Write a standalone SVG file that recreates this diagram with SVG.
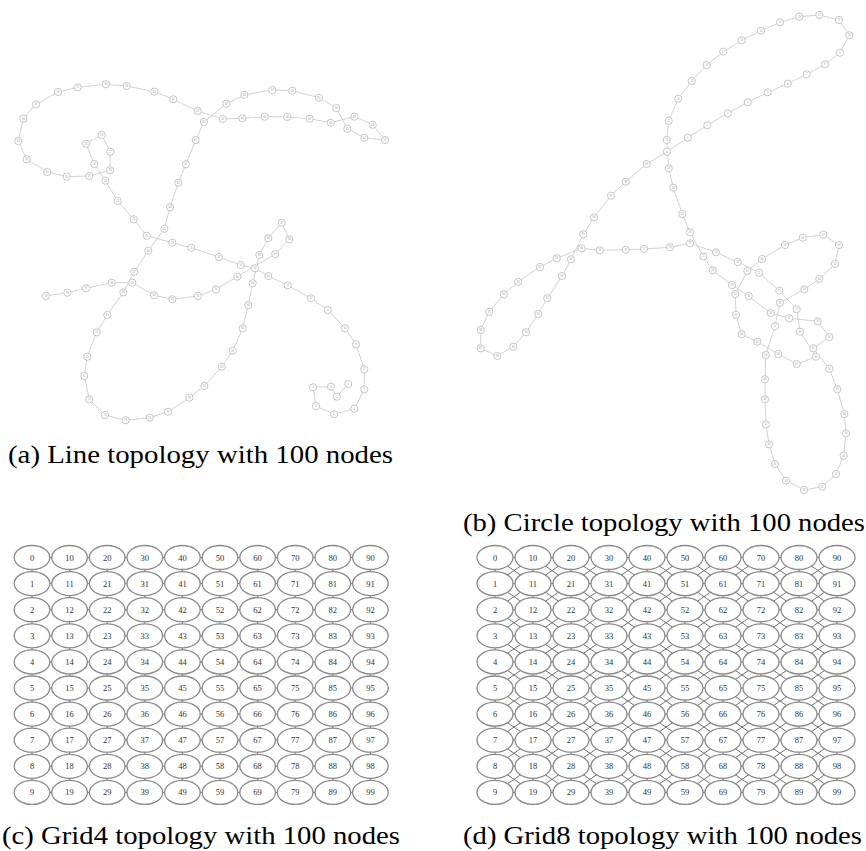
<svg xmlns="http://www.w3.org/2000/svg" width="866" height="851" viewBox="0 0 866 851">
<style>
.e{fill:none;stroke:#cdcdcd;stroke-width:0.9}
.s{fill:#fff;stroke:#c0c0c0;stroke-width:0.9}
.t{font-family:"Liberation Sans",sans-serif;font-size:2.6px;fill:#9a9a9a;text-anchor:middle}
.g{fill:#fff;stroke:#8a8a8a;stroke-width:1.3}
.gt{font-family:"Liberation Serif",serif;font-size:8.5px;fill:#333;text-anchor:middle}
.ge{fill:none;stroke:#707070;stroke-width:1}
.cap{font-family:"Liberation Serif",serif;font-size:25px;fill:#000}
</style>
<rect width="866" height="851" fill="#fff"/>
<g id="connectors">
<polyline id="line-edges" class="e" points="46,296 67.3,292.7 86,288.3 111.7,282.7 132.3,282.7 154,295.3 172.3,299.3 198,296 216,289.3 237.3,276.7 275.3,254 289.3,239.3 281.7,222.7 268.3,238.3 259.3,255 252.7,283.3 248.3,305 242.7,328.3 232.7,350.7 221.7,366.7 204.3,386 189.3,397.7 168,411.7 149.7,417.7 125.7,420.3 105,415 89.3,399.3 84.3,376 87.3,356.7 96.7,332.3 107.3,315 123.3,292.3 134.3,271.7 148.3,250.7 164.3,228.7 170,207.3 178.3,182.7 186,164.3 195.7,140 204,122 226.3,103.7 244.3,95 272.3,90 292.3,90.7 319,97.7 336.3,108 347.3,128.7 364.3,137.7 385,140 372.7,124.7 354.3,116.7 330.7,122.7 309.7,118.7 287.3,117 264.7,116.7 242.3,118.3 222.7,119 197.7,111 173.3,99.3 154.3,91.7 126.7,86 106,84.3 77.7,87.3 58,92 36,104.3 23.3,118.7 18.3,141 26.7,159.3 47.3,172 66.7,176.7 89.3,176 110,170.3 110.3,151.7 101.7,135 86,143.7 94.3,164 105.3,180.7 117.7,201 133.7,219.3 146.7,235.7 172.3,242.7 191.3,247.7 219,257 240.7,265 255,268.3 268.3,276 287.7,285.3 311,298.3 327.7,310 345,328.3 356,344.3 364.3,369.3 364.3,389.3 354.3,408.7 334,414.3 316,406 313,387.3 331,386.7 336.7,396.7 348.3,384"/>
<polygon id="circle-edges" class="e" points="667,151.7 687.7,137.7 707.3,125.3 727.7,113.3 747.7,102.3 767.7,92.3 787.7,83.7 806.7,74.3 825,64.3 840,52.7 849.3,35.3 839,20 819.3,15 799.3,16.7 780,22.3 761,30.7 741.7,40.3 723.3,51.7 706.7,65 691.7,81 678.3,98.7 668.7,120.7 666.7,140 668.7,168.3 673.3,187.7 682.3,214 690,232.3 703.3,256.3 712.7,270.3 732,285 748.7,296 770.7,313 789.3,318.3 817.7,321.3 829.3,337 813.3,348.3 829.3,368.7 837.3,389.3 844.3,414 846,433.3 843.7,455.7 836,474 822.3,486.7 804,490 786,480.7 775,464 769,444.3 766,424.3 765,399.3 765,379.3 765.7,355 775,326.3 780,302.7 804.3,289.3 819.3,279 835,264 839,245 823.3,234.7 802.7,237.7 785,245 762,259 747.3,271 735.3,294 736,314.7 741.7,334.3 757.3,341.7 778.3,354 796.7,364 816,356.7 800,331.7 796.7,309.3 779.3,290.7 759,272.7 737.7,262 716,252.3 690,243.3 670,247.3 644,249 625.7,249.7 599.7,250.3 581.7,248.3 556.7,258.3 540,267 518.3,281.7 503.7,294.3 489.3,311.7 480.7,330 480.7,348.3 497.3,356 513.3,346.7 526,332.3 538.3,314 547.3,298.3 562,276 571,259.3 583.3,234.3 594,217.3 611,195.7 625.7,181.7 646.7,164"/>
<path id="grid4-edges" class="ge" d="M32 557.5H370.4M32 583.6H370.4M32 609.7H370.4M32 635.8H370.4M32 661.9H370.4M32 688H370.4M32 714.1H370.4M32 740.2H370.4M32 766.3H370.4M32 792.4H370.4M32 557.5V792.4M69.6 557.5V792.4M107.2 557.5V792.4M144.8 557.5V792.4M182.4 557.5V792.4M220 557.5V792.4M257.6 557.5V792.4M295.2 557.5V792.4M332.8 557.5V792.4M370.4 557.5V792.4"/>
<path id="grid8-edges" class="ge" d="M495 557.5H837M495 583.6H837M495 609.7H837M495 635.8H837M495 661.9H837M495 688H837M495 714.1H837M495 740.2H837M495 766.3H837M495 792.4H837M495 557.5V792.4M533 557.5V792.4M571 557.5V792.4M609 557.5V792.4M647 557.5V792.4M685 557.5V792.4M723 557.5V792.4M761 557.5V792.4M799 557.5V792.4M837 557.5V792.4M495 766.3L533 792.4M495 740.2L571 792.4M495 714.1L609 792.4M495 688L647 792.4M495 661.9L685 792.4M495 635.8L723 792.4M495 609.7L761 792.4M495 583.6L799 792.4M495 557.5L837 792.4M533 557.5L837 766.3M571 557.5L837 740.2M609 557.5L837 714.1M647 557.5L837 688M685 557.5L837 661.9M723 557.5L837 635.8M761 557.5L837 609.7M799 557.5L837 583.6M495 583.6L533 557.5M495 609.7L571 557.5M495 635.8L609 557.5M495 661.9L647 557.5M495 688L685 557.5M495 714.1L723 557.5M495 740.2L761 557.5M495 766.3L799 557.5M495 792.4L837 557.5M533 792.4L837 583.6M571 792.4L837 609.7M609 792.4L837 635.8M647 792.4L837 661.9M685 792.4L837 688M723 792.4L837 714.1M761 792.4L837 740.2M799 792.4L837 766.3"/>
</g>
<g id="line-nodes">
<g id="L99" transform="translate(46,296)"><circle class="s" r="3.6"/><text class="t" y="0.9">99</text></g>
<g id="L98" transform="translate(67.3,292.7)"><circle class="s" r="3.6"/><text class="t" y="0.9">98</text></g>
<g id="L97" transform="translate(86,288.3)"><circle class="s" r="3.6"/><text class="t" y="0.9">97</text></g>
<g id="L96" transform="translate(111.7,282.7)"><circle class="s" r="3.6"/><text class="t" y="0.9">96</text></g>
<g id="L95" transform="translate(132.3,282.7)"><circle class="s" r="3.6"/><text class="t" y="0.9">95</text></g>
<g id="L94" transform="translate(154,295.3)"><circle class="s" r="3.6"/><text class="t" y="0.9">94</text></g>
<g id="L93" transform="translate(172.3,299.3)"><circle class="s" r="3.6"/><text class="t" y="0.9">93</text></g>
<g id="L92" transform="translate(198,296)"><circle class="s" r="3.6"/><text class="t" y="0.9">92</text></g>
<g id="L91" transform="translate(216,289.3)"><circle class="s" r="3.6"/><text class="t" y="0.9">91</text></g>
<g id="L90" transform="translate(237.3,276.7)"><circle class="s" r="3.6"/><text class="t" y="0.9">90</text></g>
<g id="L89" transform="translate(275.3,254)"><circle class="s" r="3.6"/><text class="t" y="0.9">89</text></g>
<g id="L88" transform="translate(289.3,239.3)"><circle class="s" r="3.6"/><text class="t" y="0.9">88</text></g>
<g id="L87" transform="translate(281.7,222.7)"><circle class="s" r="3.6"/><text class="t" y="0.9">87</text></g>
<g id="L86" transform="translate(268.3,238.3)"><circle class="s" r="3.6"/><text class="t" y="0.9">86</text></g>
<g id="L85" transform="translate(259.3,255)"><circle class="s" r="3.6"/><text class="t" y="0.9">85</text></g>
<g id="L84" transform="translate(252.7,283.3)"><circle class="s" r="3.6"/><text class="t" y="0.9">84</text></g>
<g id="L83" transform="translate(248.3,305)"><circle class="s" r="3.6"/><text class="t" y="0.9">83</text></g>
<g id="L82" transform="translate(242.7,328.3)"><circle class="s" r="3.6"/><text class="t" y="0.9">82</text></g>
<g id="L81" transform="translate(232.7,350.7)"><circle class="s" r="3.6"/><text class="t" y="0.9">81</text></g>
<g id="L80" transform="translate(221.7,366.7)"><circle class="s" r="3.6"/><text class="t" y="0.9">80</text></g>
<g id="L79" transform="translate(204.3,386)"><circle class="s" r="3.6"/><text class="t" y="0.9">79</text></g>
<g id="L78" transform="translate(189.3,397.7)"><circle class="s" r="3.6"/><text class="t" y="0.9">78</text></g>
<g id="L77" transform="translate(168,411.7)"><circle class="s" r="3.6"/><text class="t" y="0.9">77</text></g>
<g id="L76" transform="translate(149.7,417.7)"><circle class="s" r="3.6"/><text class="t" y="0.9">76</text></g>
<g id="L75" transform="translate(125.7,420.3)"><circle class="s" r="3.6"/><text class="t" y="0.9">75</text></g>
<g id="L74" transform="translate(105,415)"><circle class="s" r="3.6"/><text class="t" y="0.9">74</text></g>
<g id="L73" transform="translate(89.3,399.3)"><circle class="s" r="3.6"/><text class="t" y="0.9">73</text></g>
<g id="L72" transform="translate(84.3,376)"><circle class="s" r="3.6"/><text class="t" y="0.9">72</text></g>
<g id="L71" transform="translate(87.3,356.7)"><circle class="s" r="3.6"/><text class="t" y="0.9">71</text></g>
<g id="L70" transform="translate(96.7,332.3)"><circle class="s" r="3.6"/><text class="t" y="0.9">70</text></g>
<g id="L69" transform="translate(107.3,315)"><circle class="s" r="3.6"/><text class="t" y="0.9">69</text></g>
<g id="L68" transform="translate(123.3,292.3)"><circle class="s" r="3.6"/><text class="t" y="0.9">68</text></g>
<g id="L67" transform="translate(134.3,271.7)"><circle class="s" r="3.6"/><text class="t" y="0.9">67</text></g>
<g id="L66" transform="translate(148.3,250.7)"><circle class="s" r="3.6"/><text class="t" y="0.9">66</text></g>
<g id="L65" transform="translate(164.3,228.7)"><circle class="s" r="3.6"/><text class="t" y="0.9">65</text></g>
<g id="L64" transform="translate(170,207.3)"><circle class="s" r="3.6"/><text class="t" y="0.9">64</text></g>
<g id="L63" transform="translate(178.3,182.7)"><circle class="s" r="3.6"/><text class="t" y="0.9">63</text></g>
<g id="L62" transform="translate(186,164.3)"><circle class="s" r="3.6"/><text class="t" y="0.9">62</text></g>
<g id="L61" transform="translate(195.7,140)"><circle class="s" r="3.6"/><text class="t" y="0.9">61</text></g>
<g id="L60" transform="translate(204,122)"><circle class="s" r="3.6"/><text class="t" y="0.9">60</text></g>
<g id="L59" transform="translate(226.3,103.7)"><circle class="s" r="3.6"/><text class="t" y="0.9">59</text></g>
<g id="L58" transform="translate(244.3,95)"><circle class="s" r="3.6"/><text class="t" y="0.9">58</text></g>
<g id="L57" transform="translate(272.3,90)"><circle class="s" r="3.6"/><text class="t" y="0.9">57</text></g>
<g id="L56" transform="translate(292.3,90.7)"><circle class="s" r="3.6"/><text class="t" y="0.9">56</text></g>
<g id="L55" transform="translate(319,97.7)"><circle class="s" r="3.6"/><text class="t" y="0.9">55</text></g>
<g id="L54" transform="translate(336.3,108)"><circle class="s" r="3.6"/><text class="t" y="0.9">54</text></g>
<g id="L53" transform="translate(347.3,128.7)"><circle class="s" r="3.6"/><text class="t" y="0.9">53</text></g>
<g id="L52" transform="translate(364.3,137.7)"><circle class="s" r="3.6"/><text class="t" y="0.9">52</text></g>
<g id="L51" transform="translate(385,140)"><circle class="s" r="3.6"/><text class="t" y="0.9">51</text></g>
<g id="L50" transform="translate(372.7,124.7)"><circle class="s" r="3.6"/><text class="t" y="0.9">50</text></g>
<g id="L49" transform="translate(354.3,116.7)"><circle class="s" r="3.6"/><text class="t" y="0.9">49</text></g>
<g id="L48" transform="translate(330.7,122.7)"><circle class="s" r="3.6"/><text class="t" y="0.9">48</text></g>
<g id="L47" transform="translate(309.7,118.7)"><circle class="s" r="3.6"/><text class="t" y="0.9">47</text></g>
<g id="L46" transform="translate(287.3,117)"><circle class="s" r="3.6"/><text class="t" y="0.9">46</text></g>
<g id="L45" transform="translate(264.7,116.7)"><circle class="s" r="3.6"/><text class="t" y="0.9">45</text></g>
<g id="L44" transform="translate(242.3,118.3)"><circle class="s" r="3.6"/><text class="t" y="0.9">44</text></g>
<g id="L43" transform="translate(222.7,119)"><circle class="s" r="3.6"/><text class="t" y="0.9">43</text></g>
<g id="L42" transform="translate(197.7,111)"><circle class="s" r="3.6"/><text class="t" y="0.9">42</text></g>
<g id="L41" transform="translate(173.3,99.3)"><circle class="s" r="3.6"/><text class="t" y="0.9">41</text></g>
<g id="L40" transform="translate(154.3,91.7)"><circle class="s" r="3.6"/><text class="t" y="0.9">40</text></g>
<g id="L39" transform="translate(126.7,86)"><circle class="s" r="3.6"/><text class="t" y="0.9">39</text></g>
<g id="L38" transform="translate(106,84.3)"><circle class="s" r="3.6"/><text class="t" y="0.9">38</text></g>
<g id="L37" transform="translate(77.7,87.3)"><circle class="s" r="3.6"/><text class="t" y="0.9">37</text></g>
<g id="L36" transform="translate(58,92)"><circle class="s" r="3.6"/><text class="t" y="0.9">36</text></g>
<g id="L35" transform="translate(36,104.3)"><circle class="s" r="3.6"/><text class="t" y="0.9">35</text></g>
<g id="L34" transform="translate(23.3,118.7)"><circle class="s" r="3.6"/><text class="t" y="0.9">34</text></g>
<g id="L33" transform="translate(18.3,141)"><circle class="s" r="3.6"/><text class="t" y="0.9">33</text></g>
<g id="L32" transform="translate(26.7,159.3)"><circle class="s" r="3.6"/><text class="t" y="0.9">32</text></g>
<g id="L31" transform="translate(47.3,172)"><circle class="s" r="3.6"/><text class="t" y="0.9">31</text></g>
<g id="L30" transform="translate(66.7,176.7)"><circle class="s" r="3.6"/><text class="t" y="0.9">30</text></g>
<g id="L29" transform="translate(89.3,176)"><circle class="s" r="3.6"/><text class="t" y="0.9">29</text></g>
<g id="L28" transform="translate(110,170.3)"><circle class="s" r="3.6"/><text class="t" y="0.9">28</text></g>
<g id="L27" transform="translate(110.3,151.7)"><circle class="s" r="3.6"/><text class="t" y="0.9">27</text></g>
<g id="L26" transform="translate(101.7,135)"><circle class="s" r="3.6"/><text class="t" y="0.9">26</text></g>
<g id="L25" transform="translate(86,143.7)"><circle class="s" r="3.6"/><text class="t" y="0.9">25</text></g>
<g id="L24" transform="translate(94.3,164)"><circle class="s" r="3.6"/><text class="t" y="0.9">24</text></g>
<g id="L23" transform="translate(105.3,180.7)"><circle class="s" r="3.6"/><text class="t" y="0.9">23</text></g>
<g id="L22" transform="translate(117.7,201)"><circle class="s" r="3.6"/><text class="t" y="0.9">22</text></g>
<g id="L21" transform="translate(133.7,219.3)"><circle class="s" r="3.6"/><text class="t" y="0.9">21</text></g>
<g id="L20" transform="translate(146.7,235.7)"><circle class="s" r="3.6"/><text class="t" y="0.9">20</text></g>
<g id="L19" transform="translate(172.3,242.7)"><circle class="s" r="3.6"/><text class="t" y="0.9">19</text></g>
<g id="L18" transform="translate(191.3,247.7)"><circle class="s" r="3.6"/><text class="t" y="0.9">18</text></g>
<g id="L17" transform="translate(219,257)"><circle class="s" r="3.6"/><text class="t" y="0.9">17</text></g>
<g id="L16" transform="translate(240.7,265)"><circle class="s" r="3.6"/><text class="t" y="0.9">16</text></g>
<g id="L15" transform="translate(255,268.3)"><circle class="s" r="3.6"/><text class="t" y="0.9">15</text></g>
<g id="L14" transform="translate(268.3,276)"><circle class="s" r="3.6"/><text class="t" y="0.9">14</text></g>
<g id="L13" transform="translate(287.7,285.3)"><circle class="s" r="3.6"/><text class="t" y="0.9">13</text></g>
<g id="L12" transform="translate(311,298.3)"><circle class="s" r="3.6"/><text class="t" y="0.9">12</text></g>
<g id="L11" transform="translate(327.7,310)"><circle class="s" r="3.6"/><text class="t" y="0.9">11</text></g>
<g id="L10" transform="translate(345,328.3)"><circle class="s" r="3.6"/><text class="t" y="0.9">10</text></g>
<g id="L9" transform="translate(356,344.3)"><circle class="s" r="3.6"/><text class="t" y="0.9">9</text></g>
<g id="L8" transform="translate(364.3,369.3)"><circle class="s" r="3.6"/><text class="t" y="0.9">8</text></g>
<g id="L7" transform="translate(364.3,389.3)"><circle class="s" r="3.6"/><text class="t" y="0.9">7</text></g>
<g id="L6" transform="translate(354.3,408.7)"><circle class="s" r="3.6"/><text class="t" y="0.9">6</text></g>
<g id="L5" transform="translate(334,414.3)"><circle class="s" r="3.6"/><text class="t" y="0.9">5</text></g>
<g id="L4" transform="translate(316,406)"><circle class="s" r="3.6"/><text class="t" y="0.9">4</text></g>
<g id="L3" transform="translate(313,387.3)"><circle class="s" r="3.6"/><text class="t" y="0.9">3</text></g>
<g id="L2" transform="translate(331,386.7)"><circle class="s" r="3.6"/><text class="t" y="0.9">2</text></g>
<g id="L1" transform="translate(336.7,396.7)"><circle class="s" r="3.6"/><text class="t" y="0.9">1</text></g>
<g id="L0" transform="translate(348.3,384)"><circle class="s" r="3.6"/><text class="t" y="0.9">0</text></g>
</g>
<g id="circle-nodes">
<g id="C0" transform="translate(667,151.7)"><circle class="s" r="3.6"/><text class="t" y="0.9">0</text></g>
<g id="C1" transform="translate(687.7,137.7)"><circle class="s" r="3.6"/><text class="t" y="0.9">1</text></g>
<g id="C2" transform="translate(707.3,125.3)"><circle class="s" r="3.6"/><text class="t" y="0.9">2</text></g>
<g id="C3" transform="translate(727.7,113.3)"><circle class="s" r="3.6"/><text class="t" y="0.9">3</text></g>
<g id="C4" transform="translate(747.7,102.3)"><circle class="s" r="3.6"/><text class="t" y="0.9">4</text></g>
<g id="C5" transform="translate(767.7,92.3)"><circle class="s" r="3.6"/><text class="t" y="0.9">5</text></g>
<g id="C6" transform="translate(787.7,83.7)"><circle class="s" r="3.6"/><text class="t" y="0.9">6</text></g>
<g id="C7" transform="translate(806.7,74.3)"><circle class="s" r="3.6"/><text class="t" y="0.9">7</text></g>
<g id="C8" transform="translate(825,64.3)"><circle class="s" r="3.6"/><text class="t" y="0.9">8</text></g>
<g id="C9" transform="translate(840,52.7)"><circle class="s" r="3.6"/><text class="t" y="0.9">9</text></g>
<g id="C10" transform="translate(849.3,35.3)"><circle class="s" r="3.6"/><text class="t" y="0.9">10</text></g>
<g id="C11" transform="translate(839,20)"><circle class="s" r="3.6"/><text class="t" y="0.9">11</text></g>
<g id="C12" transform="translate(819.3,15)"><circle class="s" r="3.6"/><text class="t" y="0.9">12</text></g>
<g id="C13" transform="translate(799.3,16.7)"><circle class="s" r="3.6"/><text class="t" y="0.9">13</text></g>
<g id="C14" transform="translate(780,22.3)"><circle class="s" r="3.6"/><text class="t" y="0.9">14</text></g>
<g id="C15" transform="translate(761,30.7)"><circle class="s" r="3.6"/><text class="t" y="0.9">15</text></g>
<g id="C16" transform="translate(741.7,40.3)"><circle class="s" r="3.6"/><text class="t" y="0.9">16</text></g>
<g id="C17" transform="translate(723.3,51.7)"><circle class="s" r="3.6"/><text class="t" y="0.9">17</text></g>
<g id="C18" transform="translate(706.7,65)"><circle class="s" r="3.6"/><text class="t" y="0.9">18</text></g>
<g id="C19" transform="translate(691.7,81)"><circle class="s" r="3.6"/><text class="t" y="0.9">19</text></g>
<g id="C20" transform="translate(678.3,98.7)"><circle class="s" r="3.6"/><text class="t" y="0.9">20</text></g>
<g id="C21" transform="translate(668.7,120.7)"><circle class="s" r="3.6"/><text class="t" y="0.9">21</text></g>
<g id="C22" transform="translate(666.7,140)"><circle class="s" r="3.6"/><text class="t" y="0.9">22</text></g>
<g id="C23" transform="translate(668.7,168.3)"><circle class="s" r="3.6"/><text class="t" y="0.9">23</text></g>
<g id="C24" transform="translate(673.3,187.7)"><circle class="s" r="3.6"/><text class="t" y="0.9">24</text></g>
<g id="C25" transform="translate(682.3,214)"><circle class="s" r="3.6"/><text class="t" y="0.9">25</text></g>
<g id="C26" transform="translate(690,232.3)"><circle class="s" r="3.6"/><text class="t" y="0.9">26</text></g>
<g id="C27" transform="translate(703.3,256.3)"><circle class="s" r="3.6"/><text class="t" y="0.9">27</text></g>
<g id="C28" transform="translate(712.7,270.3)"><circle class="s" r="3.6"/><text class="t" y="0.9">28</text></g>
<g id="C29" transform="translate(732,285)"><circle class="s" r="3.6"/><text class="t" y="0.9">29</text></g>
<g id="C30" transform="translate(748.7,296)"><circle class="s" r="3.6"/><text class="t" y="0.9">30</text></g>
<g id="C31" transform="translate(770.7,313)"><circle class="s" r="3.6"/><text class="t" y="0.9">31</text></g>
<g id="C32" transform="translate(789.3,318.3)"><circle class="s" r="3.6"/><text class="t" y="0.9">32</text></g>
<g id="C33" transform="translate(817.7,321.3)"><circle class="s" r="3.6"/><text class="t" y="0.9">33</text></g>
<g id="C34" transform="translate(829.3,337)"><circle class="s" r="3.6"/><text class="t" y="0.9">34</text></g>
<g id="C35" transform="translate(813.3,348.3)"><circle class="s" r="3.6"/><text class="t" y="0.9">35</text></g>
<g id="C36" transform="translate(829.3,368.7)"><circle class="s" r="3.6"/><text class="t" y="0.9">36</text></g>
<g id="C37" transform="translate(837.3,389.3)"><circle class="s" r="3.6"/><text class="t" y="0.9">37</text></g>
<g id="C38" transform="translate(844.3,414)"><circle class="s" r="3.6"/><text class="t" y="0.9">38</text></g>
<g id="C39" transform="translate(846,433.3)"><circle class="s" r="3.6"/><text class="t" y="0.9">39</text></g>
<g id="C40" transform="translate(843.7,455.7)"><circle class="s" r="3.6"/><text class="t" y="0.9">40</text></g>
<g id="C41" transform="translate(836,474)"><circle class="s" r="3.6"/><text class="t" y="0.9">41</text></g>
<g id="C42" transform="translate(822.3,486.7)"><circle class="s" r="3.6"/><text class="t" y="0.9">42</text></g>
<g id="C43" transform="translate(804,490)"><circle class="s" r="3.6"/><text class="t" y="0.9">43</text></g>
<g id="C44" transform="translate(786,480.7)"><circle class="s" r="3.6"/><text class="t" y="0.9">44</text></g>
<g id="C45" transform="translate(775,464)"><circle class="s" r="3.6"/><text class="t" y="0.9">45</text></g>
<g id="C46" transform="translate(769,444.3)"><circle class="s" r="3.6"/><text class="t" y="0.9">46</text></g>
<g id="C47" transform="translate(766,424.3)"><circle class="s" r="3.6"/><text class="t" y="0.9">47</text></g>
<g id="C48" transform="translate(765,399.3)"><circle class="s" r="3.6"/><text class="t" y="0.9">48</text></g>
<g id="C49" transform="translate(765,379.3)"><circle class="s" r="3.6"/><text class="t" y="0.9">49</text></g>
<g id="C50" transform="translate(765.7,355)"><circle class="s" r="3.6"/><text class="t" y="0.9">50</text></g>
<g id="C51" transform="translate(775,326.3)"><circle class="s" r="3.6"/><text class="t" y="0.9">51</text></g>
<g id="C52" transform="translate(780,302.7)"><circle class="s" r="3.6"/><text class="t" y="0.9">52</text></g>
<g id="C53" transform="translate(804.3,289.3)"><circle class="s" r="3.6"/><text class="t" y="0.9">53</text></g>
<g id="C54" transform="translate(819.3,279)"><circle class="s" r="3.6"/><text class="t" y="0.9">54</text></g>
<g id="C55" transform="translate(835,264)"><circle class="s" r="3.6"/><text class="t" y="0.9">55</text></g>
<g id="C56" transform="translate(839,245)"><circle class="s" r="3.6"/><text class="t" y="0.9">56</text></g>
<g id="C57" transform="translate(823.3,234.7)"><circle class="s" r="3.6"/><text class="t" y="0.9">57</text></g>
<g id="C58" transform="translate(802.7,237.7)"><circle class="s" r="3.6"/><text class="t" y="0.9">58</text></g>
<g id="C59" transform="translate(785,245)"><circle class="s" r="3.6"/><text class="t" y="0.9">59</text></g>
<g id="C60" transform="translate(762,259)"><circle class="s" r="3.6"/><text class="t" y="0.9">60</text></g>
<g id="C61" transform="translate(747.3,271)"><circle class="s" r="3.6"/><text class="t" y="0.9">61</text></g>
<g id="C62" transform="translate(735.3,294)"><circle class="s" r="3.6"/><text class="t" y="0.9">62</text></g>
<g id="C63" transform="translate(736,314.7)"><circle class="s" r="3.6"/><text class="t" y="0.9">63</text></g>
<g id="C64" transform="translate(741.7,334.3)"><circle class="s" r="3.6"/><text class="t" y="0.9">64</text></g>
<g id="C65" transform="translate(757.3,341.7)"><circle class="s" r="3.6"/><text class="t" y="0.9">65</text></g>
<g id="C66" transform="translate(778.3,354)"><circle class="s" r="3.6"/><text class="t" y="0.9">66</text></g>
<g id="C67" transform="translate(796.7,364)"><circle class="s" r="3.6"/><text class="t" y="0.9">67</text></g>
<g id="C68" transform="translate(816,356.7)"><circle class="s" r="3.6"/><text class="t" y="0.9">68</text></g>
<g id="C69" transform="translate(800,331.7)"><circle class="s" r="3.6"/><text class="t" y="0.9">69</text></g>
<g id="C70" transform="translate(796.7,309.3)"><circle class="s" r="3.6"/><text class="t" y="0.9">70</text></g>
<g id="C71" transform="translate(779.3,290.7)"><circle class="s" r="3.6"/><text class="t" y="0.9">71</text></g>
<g id="C72" transform="translate(759,272.7)"><circle class="s" r="3.6"/><text class="t" y="0.9">72</text></g>
<g id="C73" transform="translate(737.7,262)"><circle class="s" r="3.6"/><text class="t" y="0.9">73</text></g>
<g id="C74" transform="translate(716,252.3)"><circle class="s" r="3.6"/><text class="t" y="0.9">74</text></g>
<g id="C75" transform="translate(690,243.3)"><circle class="s" r="3.6"/><text class="t" y="0.9">75</text></g>
<g id="C76" transform="translate(670,247.3)"><circle class="s" r="3.6"/><text class="t" y="0.9">76</text></g>
<g id="C77" transform="translate(644,249)"><circle class="s" r="3.6"/><text class="t" y="0.9">77</text></g>
<g id="C78" transform="translate(625.7,249.7)"><circle class="s" r="3.6"/><text class="t" y="0.9">78</text></g>
<g id="C79" transform="translate(599.7,250.3)"><circle class="s" r="3.6"/><text class="t" y="0.9">79</text></g>
<g id="C80" transform="translate(581.7,248.3)"><circle class="s" r="3.6"/><text class="t" y="0.9">80</text></g>
<g id="C81" transform="translate(556.7,258.3)"><circle class="s" r="3.6"/><text class="t" y="0.9">81</text></g>
<g id="C82" transform="translate(540,267)"><circle class="s" r="3.6"/><text class="t" y="0.9">82</text></g>
<g id="C83" transform="translate(518.3,281.7)"><circle class="s" r="3.6"/><text class="t" y="0.9">83</text></g>
<g id="C84" transform="translate(503.7,294.3)"><circle class="s" r="3.6"/><text class="t" y="0.9">84</text></g>
<g id="C85" transform="translate(489.3,311.7)"><circle class="s" r="3.6"/><text class="t" y="0.9">85</text></g>
<g id="C86" transform="translate(480.7,330)"><circle class="s" r="3.6"/><text class="t" y="0.9">86</text></g>
<g id="C87" transform="translate(480.7,348.3)"><circle class="s" r="3.6"/><text class="t" y="0.9">87</text></g>
<g id="C88" transform="translate(497.3,356)"><circle class="s" r="3.6"/><text class="t" y="0.9">88</text></g>
<g id="C89" transform="translate(513.3,346.7)"><circle class="s" r="3.6"/><text class="t" y="0.9">89</text></g>
<g id="C90" transform="translate(526,332.3)"><circle class="s" r="3.6"/><text class="t" y="0.9">90</text></g>
<g id="C91" transform="translate(538.3,314)"><circle class="s" r="3.6"/><text class="t" y="0.9">91</text></g>
<g id="C92" transform="translate(547.3,298.3)"><circle class="s" r="3.6"/><text class="t" y="0.9">92</text></g>
<g id="C93" transform="translate(562,276)"><circle class="s" r="3.6"/><text class="t" y="0.9">93</text></g>
<g id="C94" transform="translate(571,259.3)"><circle class="s" r="3.6"/><text class="t" y="0.9">94</text></g>
<g id="C95" transform="translate(583.3,234.3)"><circle class="s" r="3.6"/><text class="t" y="0.9">95</text></g>
<g id="C96" transform="translate(594,217.3)"><circle class="s" r="3.6"/><text class="t" y="0.9">96</text></g>
<g id="C97" transform="translate(611,195.7)"><circle class="s" r="3.6"/><text class="t" y="0.9">97</text></g>
<g id="C98" transform="translate(625.7,181.7)"><circle class="s" r="3.6"/><text class="t" y="0.9">98</text></g>
<g id="C99" transform="translate(646.7,164)"><circle class="s" r="3.6"/><text class="t" y="0.9">99</text></g>
</g>
<g id="grid4-nodes">
<g id="G4_0" transform="translate(32,557.5)"><ellipse class="g" rx="17.8" ry="12"/><text class="gt" y="3">0</text></g>
<g id="G4_1" transform="translate(32,583.6)"><ellipse class="g" rx="17.8" ry="12"/><text class="gt" y="3">1</text></g>
<g id="G4_2" transform="translate(32,609.7)"><ellipse class="g" rx="17.8" ry="12"/><text class="gt" y="3">2</text></g>
<g id="G4_3" transform="translate(32,635.8)"><ellipse class="g" rx="17.8" ry="12"/><text class="gt" y="3">3</text></g>
<g id="G4_4" transform="translate(32,661.9)"><ellipse class="g" rx="17.8" ry="12"/><text class="gt" y="3">4</text></g>
<g id="G4_5" transform="translate(32,688)"><ellipse class="g" rx="17.8" ry="12"/><text class="gt" y="3">5</text></g>
<g id="G4_6" transform="translate(32,714.1)"><ellipse class="g" rx="17.8" ry="12"/><text class="gt" y="3">6</text></g>
<g id="G4_7" transform="translate(32,740.2)"><ellipse class="g" rx="17.8" ry="12"/><text class="gt" y="3">7</text></g>
<g id="G4_8" transform="translate(32,766.3)"><ellipse class="g" rx="17.8" ry="12"/><text class="gt" y="3">8</text></g>
<g id="G4_9" transform="translate(32,792.4)"><ellipse class="g" rx="17.8" ry="12"/><text class="gt" y="3">9</text></g>
<g id="G4_10" transform="translate(69.6,557.5)"><ellipse class="g" rx="17.8" ry="12"/><text class="gt" y="3">10</text></g>
<g id="G4_11" transform="translate(69.6,583.6)"><ellipse class="g" rx="17.8" ry="12"/><text class="gt" y="3">11</text></g>
<g id="G4_12" transform="translate(69.6,609.7)"><ellipse class="g" rx="17.8" ry="12"/><text class="gt" y="3">12</text></g>
<g id="G4_13" transform="translate(69.6,635.8)"><ellipse class="g" rx="17.8" ry="12"/><text class="gt" y="3">13</text></g>
<g id="G4_14" transform="translate(69.6,661.9)"><ellipse class="g" rx="17.8" ry="12"/><text class="gt" y="3">14</text></g>
<g id="G4_15" transform="translate(69.6,688)"><ellipse class="g" rx="17.8" ry="12"/><text class="gt" y="3">15</text></g>
<g id="G4_16" transform="translate(69.6,714.1)"><ellipse class="g" rx="17.8" ry="12"/><text class="gt" y="3">16</text></g>
<g id="G4_17" transform="translate(69.6,740.2)"><ellipse class="g" rx="17.8" ry="12"/><text class="gt" y="3">17</text></g>
<g id="G4_18" transform="translate(69.6,766.3)"><ellipse class="g" rx="17.8" ry="12"/><text class="gt" y="3">18</text></g>
<g id="G4_19" transform="translate(69.6,792.4)"><ellipse class="g" rx="17.8" ry="12"/><text class="gt" y="3">19</text></g>
<g id="G4_20" transform="translate(107.2,557.5)"><ellipse class="g" rx="17.8" ry="12"/><text class="gt" y="3">20</text></g>
<g id="G4_21" transform="translate(107.2,583.6)"><ellipse class="g" rx="17.8" ry="12"/><text class="gt" y="3">21</text></g>
<g id="G4_22" transform="translate(107.2,609.7)"><ellipse class="g" rx="17.8" ry="12"/><text class="gt" y="3">22</text></g>
<g id="G4_23" transform="translate(107.2,635.8)"><ellipse class="g" rx="17.8" ry="12"/><text class="gt" y="3">23</text></g>
<g id="G4_24" transform="translate(107.2,661.9)"><ellipse class="g" rx="17.8" ry="12"/><text class="gt" y="3">24</text></g>
<g id="G4_25" transform="translate(107.2,688)"><ellipse class="g" rx="17.8" ry="12"/><text class="gt" y="3">25</text></g>
<g id="G4_26" transform="translate(107.2,714.1)"><ellipse class="g" rx="17.8" ry="12"/><text class="gt" y="3">26</text></g>
<g id="G4_27" transform="translate(107.2,740.2)"><ellipse class="g" rx="17.8" ry="12"/><text class="gt" y="3">27</text></g>
<g id="G4_28" transform="translate(107.2,766.3)"><ellipse class="g" rx="17.8" ry="12"/><text class="gt" y="3">28</text></g>
<g id="G4_29" transform="translate(107.2,792.4)"><ellipse class="g" rx="17.8" ry="12"/><text class="gt" y="3">29</text></g>
<g id="G4_30" transform="translate(144.8,557.5)"><ellipse class="g" rx="17.8" ry="12"/><text class="gt" y="3">30</text></g>
<g id="G4_31" transform="translate(144.8,583.6)"><ellipse class="g" rx="17.8" ry="12"/><text class="gt" y="3">31</text></g>
<g id="G4_32" transform="translate(144.8,609.7)"><ellipse class="g" rx="17.8" ry="12"/><text class="gt" y="3">32</text></g>
<g id="G4_33" transform="translate(144.8,635.8)"><ellipse class="g" rx="17.8" ry="12"/><text class="gt" y="3">33</text></g>
<g id="G4_34" transform="translate(144.8,661.9)"><ellipse class="g" rx="17.8" ry="12"/><text class="gt" y="3">34</text></g>
<g id="G4_35" transform="translate(144.8,688)"><ellipse class="g" rx="17.8" ry="12"/><text class="gt" y="3">35</text></g>
<g id="G4_36" transform="translate(144.8,714.1)"><ellipse class="g" rx="17.8" ry="12"/><text class="gt" y="3">36</text></g>
<g id="G4_37" transform="translate(144.8,740.2)"><ellipse class="g" rx="17.8" ry="12"/><text class="gt" y="3">37</text></g>
<g id="G4_38" transform="translate(144.8,766.3)"><ellipse class="g" rx="17.8" ry="12"/><text class="gt" y="3">38</text></g>
<g id="G4_39" transform="translate(144.8,792.4)"><ellipse class="g" rx="17.8" ry="12"/><text class="gt" y="3">39</text></g>
<g id="G4_40" transform="translate(182.4,557.5)"><ellipse class="g" rx="17.8" ry="12"/><text class="gt" y="3">40</text></g>
<g id="G4_41" transform="translate(182.4,583.6)"><ellipse class="g" rx="17.8" ry="12"/><text class="gt" y="3">41</text></g>
<g id="G4_42" transform="translate(182.4,609.7)"><ellipse class="g" rx="17.8" ry="12"/><text class="gt" y="3">42</text></g>
<g id="G4_43" transform="translate(182.4,635.8)"><ellipse class="g" rx="17.8" ry="12"/><text class="gt" y="3">43</text></g>
<g id="G4_44" transform="translate(182.4,661.9)"><ellipse class="g" rx="17.8" ry="12"/><text class="gt" y="3">44</text></g>
<g id="G4_45" transform="translate(182.4,688)"><ellipse class="g" rx="17.8" ry="12"/><text class="gt" y="3">45</text></g>
<g id="G4_46" transform="translate(182.4,714.1)"><ellipse class="g" rx="17.8" ry="12"/><text class="gt" y="3">46</text></g>
<g id="G4_47" transform="translate(182.4,740.2)"><ellipse class="g" rx="17.8" ry="12"/><text class="gt" y="3">47</text></g>
<g id="G4_48" transform="translate(182.4,766.3)"><ellipse class="g" rx="17.8" ry="12"/><text class="gt" y="3">48</text></g>
<g id="G4_49" transform="translate(182.4,792.4)"><ellipse class="g" rx="17.8" ry="12"/><text class="gt" y="3">49</text></g>
<g id="G4_50" transform="translate(220,557.5)"><ellipse class="g" rx="17.8" ry="12"/><text class="gt" y="3">50</text></g>
<g id="G4_51" transform="translate(220,583.6)"><ellipse class="g" rx="17.8" ry="12"/><text class="gt" y="3">51</text></g>
<g id="G4_52" transform="translate(220,609.7)"><ellipse class="g" rx="17.8" ry="12"/><text class="gt" y="3">52</text></g>
<g id="G4_53" transform="translate(220,635.8)"><ellipse class="g" rx="17.8" ry="12"/><text class="gt" y="3">53</text></g>
<g id="G4_54" transform="translate(220,661.9)"><ellipse class="g" rx="17.8" ry="12"/><text class="gt" y="3">54</text></g>
<g id="G4_55" transform="translate(220,688)"><ellipse class="g" rx="17.8" ry="12"/><text class="gt" y="3">55</text></g>
<g id="G4_56" transform="translate(220,714.1)"><ellipse class="g" rx="17.8" ry="12"/><text class="gt" y="3">56</text></g>
<g id="G4_57" transform="translate(220,740.2)"><ellipse class="g" rx="17.8" ry="12"/><text class="gt" y="3">57</text></g>
<g id="G4_58" transform="translate(220,766.3)"><ellipse class="g" rx="17.8" ry="12"/><text class="gt" y="3">58</text></g>
<g id="G4_59" transform="translate(220,792.4)"><ellipse class="g" rx="17.8" ry="12"/><text class="gt" y="3">59</text></g>
<g id="G4_60" transform="translate(257.6,557.5)"><ellipse class="g" rx="17.8" ry="12"/><text class="gt" y="3">60</text></g>
<g id="G4_61" transform="translate(257.6,583.6)"><ellipse class="g" rx="17.8" ry="12"/><text class="gt" y="3">61</text></g>
<g id="G4_62" transform="translate(257.6,609.7)"><ellipse class="g" rx="17.8" ry="12"/><text class="gt" y="3">62</text></g>
<g id="G4_63" transform="translate(257.6,635.8)"><ellipse class="g" rx="17.8" ry="12"/><text class="gt" y="3">63</text></g>
<g id="G4_64" transform="translate(257.6,661.9)"><ellipse class="g" rx="17.8" ry="12"/><text class="gt" y="3">64</text></g>
<g id="G4_65" transform="translate(257.6,688)"><ellipse class="g" rx="17.8" ry="12"/><text class="gt" y="3">65</text></g>
<g id="G4_66" transform="translate(257.6,714.1)"><ellipse class="g" rx="17.8" ry="12"/><text class="gt" y="3">66</text></g>
<g id="G4_67" transform="translate(257.6,740.2)"><ellipse class="g" rx="17.8" ry="12"/><text class="gt" y="3">67</text></g>
<g id="G4_68" transform="translate(257.6,766.3)"><ellipse class="g" rx="17.8" ry="12"/><text class="gt" y="3">68</text></g>
<g id="G4_69" transform="translate(257.6,792.4)"><ellipse class="g" rx="17.8" ry="12"/><text class="gt" y="3">69</text></g>
<g id="G4_70" transform="translate(295.2,557.5)"><ellipse class="g" rx="17.8" ry="12"/><text class="gt" y="3">70</text></g>
<g id="G4_71" transform="translate(295.2,583.6)"><ellipse class="g" rx="17.8" ry="12"/><text class="gt" y="3">71</text></g>
<g id="G4_72" transform="translate(295.2,609.7)"><ellipse class="g" rx="17.8" ry="12"/><text class="gt" y="3">72</text></g>
<g id="G4_73" transform="translate(295.2,635.8)"><ellipse class="g" rx="17.8" ry="12"/><text class="gt" y="3">73</text></g>
<g id="G4_74" transform="translate(295.2,661.9)"><ellipse class="g" rx="17.8" ry="12"/><text class="gt" y="3">74</text></g>
<g id="G4_75" transform="translate(295.2,688)"><ellipse class="g" rx="17.8" ry="12"/><text class="gt" y="3">75</text></g>
<g id="G4_76" transform="translate(295.2,714.1)"><ellipse class="g" rx="17.8" ry="12"/><text class="gt" y="3">76</text></g>
<g id="G4_77" transform="translate(295.2,740.2)"><ellipse class="g" rx="17.8" ry="12"/><text class="gt" y="3">77</text></g>
<g id="G4_78" transform="translate(295.2,766.3)"><ellipse class="g" rx="17.8" ry="12"/><text class="gt" y="3">78</text></g>
<g id="G4_79" transform="translate(295.2,792.4)"><ellipse class="g" rx="17.8" ry="12"/><text class="gt" y="3">79</text></g>
<g id="G4_80" transform="translate(332.8,557.5)"><ellipse class="g" rx="17.8" ry="12"/><text class="gt" y="3">80</text></g>
<g id="G4_81" transform="translate(332.8,583.6)"><ellipse class="g" rx="17.8" ry="12"/><text class="gt" y="3">81</text></g>
<g id="G4_82" transform="translate(332.8,609.7)"><ellipse class="g" rx="17.8" ry="12"/><text class="gt" y="3">82</text></g>
<g id="G4_83" transform="translate(332.8,635.8)"><ellipse class="g" rx="17.8" ry="12"/><text class="gt" y="3">83</text></g>
<g id="G4_84" transform="translate(332.8,661.9)"><ellipse class="g" rx="17.8" ry="12"/><text class="gt" y="3">84</text></g>
<g id="G4_85" transform="translate(332.8,688)"><ellipse class="g" rx="17.8" ry="12"/><text class="gt" y="3">85</text></g>
<g id="G4_86" transform="translate(332.8,714.1)"><ellipse class="g" rx="17.8" ry="12"/><text class="gt" y="3">86</text></g>
<g id="G4_87" transform="translate(332.8,740.2)"><ellipse class="g" rx="17.8" ry="12"/><text class="gt" y="3">87</text></g>
<g id="G4_88" transform="translate(332.8,766.3)"><ellipse class="g" rx="17.8" ry="12"/><text class="gt" y="3">88</text></g>
<g id="G4_89" transform="translate(332.8,792.4)"><ellipse class="g" rx="17.8" ry="12"/><text class="gt" y="3">89</text></g>
<g id="G4_90" transform="translate(370.4,557.5)"><ellipse class="g" rx="17.8" ry="12"/><text class="gt" y="3">90</text></g>
<g id="G4_91" transform="translate(370.4,583.6)"><ellipse class="g" rx="17.8" ry="12"/><text class="gt" y="3">91</text></g>
<g id="G4_92" transform="translate(370.4,609.7)"><ellipse class="g" rx="17.8" ry="12"/><text class="gt" y="3">92</text></g>
<g id="G4_93" transform="translate(370.4,635.8)"><ellipse class="g" rx="17.8" ry="12"/><text class="gt" y="3">93</text></g>
<g id="G4_94" transform="translate(370.4,661.9)"><ellipse class="g" rx="17.8" ry="12"/><text class="gt" y="3">94</text></g>
<g id="G4_95" transform="translate(370.4,688)"><ellipse class="g" rx="17.8" ry="12"/><text class="gt" y="3">95</text></g>
<g id="G4_96" transform="translate(370.4,714.1)"><ellipse class="g" rx="17.8" ry="12"/><text class="gt" y="3">96</text></g>
<g id="G4_97" transform="translate(370.4,740.2)"><ellipse class="g" rx="17.8" ry="12"/><text class="gt" y="3">97</text></g>
<g id="G4_98" transform="translate(370.4,766.3)"><ellipse class="g" rx="17.8" ry="12"/><text class="gt" y="3">98</text></g>
<g id="G4_99" transform="translate(370.4,792.4)"><ellipse class="g" rx="17.8" ry="12"/><text class="gt" y="3">99</text></g>
</g>
<g id="grid8-nodes">
<g id="G8_0" transform="translate(495,557.5)"><ellipse class="g" rx="18" ry="12"/><text class="gt" y="3">0</text></g>
<g id="G8_1" transform="translate(495,583.6)"><ellipse class="g" rx="18" ry="12"/><text class="gt" y="3">1</text></g>
<g id="G8_2" transform="translate(495,609.7)"><ellipse class="g" rx="18" ry="12"/><text class="gt" y="3">2</text></g>
<g id="G8_3" transform="translate(495,635.8)"><ellipse class="g" rx="18" ry="12"/><text class="gt" y="3">3</text></g>
<g id="G8_4" transform="translate(495,661.9)"><ellipse class="g" rx="18" ry="12"/><text class="gt" y="3">4</text></g>
<g id="G8_5" transform="translate(495,688)"><ellipse class="g" rx="18" ry="12"/><text class="gt" y="3">5</text></g>
<g id="G8_6" transform="translate(495,714.1)"><ellipse class="g" rx="18" ry="12"/><text class="gt" y="3">6</text></g>
<g id="G8_7" transform="translate(495,740.2)"><ellipse class="g" rx="18" ry="12"/><text class="gt" y="3">7</text></g>
<g id="G8_8" transform="translate(495,766.3)"><ellipse class="g" rx="18" ry="12"/><text class="gt" y="3">8</text></g>
<g id="G8_9" transform="translate(495,792.4)"><ellipse class="g" rx="18" ry="12"/><text class="gt" y="3">9</text></g>
<g id="G8_10" transform="translate(533,557.5)"><ellipse class="g" rx="18" ry="12"/><text class="gt" y="3">10</text></g>
<g id="G8_11" transform="translate(533,583.6)"><ellipse class="g" rx="18" ry="12"/><text class="gt" y="3">11</text></g>
<g id="G8_12" transform="translate(533,609.7)"><ellipse class="g" rx="18" ry="12"/><text class="gt" y="3">12</text></g>
<g id="G8_13" transform="translate(533,635.8)"><ellipse class="g" rx="18" ry="12"/><text class="gt" y="3">13</text></g>
<g id="G8_14" transform="translate(533,661.9)"><ellipse class="g" rx="18" ry="12"/><text class="gt" y="3">14</text></g>
<g id="G8_15" transform="translate(533,688)"><ellipse class="g" rx="18" ry="12"/><text class="gt" y="3">15</text></g>
<g id="G8_16" transform="translate(533,714.1)"><ellipse class="g" rx="18" ry="12"/><text class="gt" y="3">16</text></g>
<g id="G8_17" transform="translate(533,740.2)"><ellipse class="g" rx="18" ry="12"/><text class="gt" y="3">17</text></g>
<g id="G8_18" transform="translate(533,766.3)"><ellipse class="g" rx="18" ry="12"/><text class="gt" y="3">18</text></g>
<g id="G8_19" transform="translate(533,792.4)"><ellipse class="g" rx="18" ry="12"/><text class="gt" y="3">19</text></g>
<g id="G8_20" transform="translate(571,557.5)"><ellipse class="g" rx="18" ry="12"/><text class="gt" y="3">20</text></g>
<g id="G8_21" transform="translate(571,583.6)"><ellipse class="g" rx="18" ry="12"/><text class="gt" y="3">21</text></g>
<g id="G8_22" transform="translate(571,609.7)"><ellipse class="g" rx="18" ry="12"/><text class="gt" y="3">22</text></g>
<g id="G8_23" transform="translate(571,635.8)"><ellipse class="g" rx="18" ry="12"/><text class="gt" y="3">23</text></g>
<g id="G8_24" transform="translate(571,661.9)"><ellipse class="g" rx="18" ry="12"/><text class="gt" y="3">24</text></g>
<g id="G8_25" transform="translate(571,688)"><ellipse class="g" rx="18" ry="12"/><text class="gt" y="3">25</text></g>
<g id="G8_26" transform="translate(571,714.1)"><ellipse class="g" rx="18" ry="12"/><text class="gt" y="3">26</text></g>
<g id="G8_27" transform="translate(571,740.2)"><ellipse class="g" rx="18" ry="12"/><text class="gt" y="3">27</text></g>
<g id="G8_28" transform="translate(571,766.3)"><ellipse class="g" rx="18" ry="12"/><text class="gt" y="3">28</text></g>
<g id="G8_29" transform="translate(571,792.4)"><ellipse class="g" rx="18" ry="12"/><text class="gt" y="3">29</text></g>
<g id="G8_30" transform="translate(609,557.5)"><ellipse class="g" rx="18" ry="12"/><text class="gt" y="3">30</text></g>
<g id="G8_31" transform="translate(609,583.6)"><ellipse class="g" rx="18" ry="12"/><text class="gt" y="3">31</text></g>
<g id="G8_32" transform="translate(609,609.7)"><ellipse class="g" rx="18" ry="12"/><text class="gt" y="3">32</text></g>
<g id="G8_33" transform="translate(609,635.8)"><ellipse class="g" rx="18" ry="12"/><text class="gt" y="3">33</text></g>
<g id="G8_34" transform="translate(609,661.9)"><ellipse class="g" rx="18" ry="12"/><text class="gt" y="3">34</text></g>
<g id="G8_35" transform="translate(609,688)"><ellipse class="g" rx="18" ry="12"/><text class="gt" y="3">35</text></g>
<g id="G8_36" transform="translate(609,714.1)"><ellipse class="g" rx="18" ry="12"/><text class="gt" y="3">36</text></g>
<g id="G8_37" transform="translate(609,740.2)"><ellipse class="g" rx="18" ry="12"/><text class="gt" y="3">37</text></g>
<g id="G8_38" transform="translate(609,766.3)"><ellipse class="g" rx="18" ry="12"/><text class="gt" y="3">38</text></g>
<g id="G8_39" transform="translate(609,792.4)"><ellipse class="g" rx="18" ry="12"/><text class="gt" y="3">39</text></g>
<g id="G8_40" transform="translate(647,557.5)"><ellipse class="g" rx="18" ry="12"/><text class="gt" y="3">40</text></g>
<g id="G8_41" transform="translate(647,583.6)"><ellipse class="g" rx="18" ry="12"/><text class="gt" y="3">41</text></g>
<g id="G8_42" transform="translate(647,609.7)"><ellipse class="g" rx="18" ry="12"/><text class="gt" y="3">42</text></g>
<g id="G8_43" transform="translate(647,635.8)"><ellipse class="g" rx="18" ry="12"/><text class="gt" y="3">43</text></g>
<g id="G8_44" transform="translate(647,661.9)"><ellipse class="g" rx="18" ry="12"/><text class="gt" y="3">44</text></g>
<g id="G8_45" transform="translate(647,688)"><ellipse class="g" rx="18" ry="12"/><text class="gt" y="3">45</text></g>
<g id="G8_46" transform="translate(647,714.1)"><ellipse class="g" rx="18" ry="12"/><text class="gt" y="3">46</text></g>
<g id="G8_47" transform="translate(647,740.2)"><ellipse class="g" rx="18" ry="12"/><text class="gt" y="3">47</text></g>
<g id="G8_48" transform="translate(647,766.3)"><ellipse class="g" rx="18" ry="12"/><text class="gt" y="3">48</text></g>
<g id="G8_49" transform="translate(647,792.4)"><ellipse class="g" rx="18" ry="12"/><text class="gt" y="3">49</text></g>
<g id="G8_50" transform="translate(685,557.5)"><ellipse class="g" rx="18" ry="12"/><text class="gt" y="3">50</text></g>
<g id="G8_51" transform="translate(685,583.6)"><ellipse class="g" rx="18" ry="12"/><text class="gt" y="3">51</text></g>
<g id="G8_52" transform="translate(685,609.7)"><ellipse class="g" rx="18" ry="12"/><text class="gt" y="3">52</text></g>
<g id="G8_53" transform="translate(685,635.8)"><ellipse class="g" rx="18" ry="12"/><text class="gt" y="3">53</text></g>
<g id="G8_54" transform="translate(685,661.9)"><ellipse class="g" rx="18" ry="12"/><text class="gt" y="3">54</text></g>
<g id="G8_55" transform="translate(685,688)"><ellipse class="g" rx="18" ry="12"/><text class="gt" y="3">55</text></g>
<g id="G8_56" transform="translate(685,714.1)"><ellipse class="g" rx="18" ry="12"/><text class="gt" y="3">56</text></g>
<g id="G8_57" transform="translate(685,740.2)"><ellipse class="g" rx="18" ry="12"/><text class="gt" y="3">57</text></g>
<g id="G8_58" transform="translate(685,766.3)"><ellipse class="g" rx="18" ry="12"/><text class="gt" y="3">58</text></g>
<g id="G8_59" transform="translate(685,792.4)"><ellipse class="g" rx="18" ry="12"/><text class="gt" y="3">59</text></g>
<g id="G8_60" transform="translate(723,557.5)"><ellipse class="g" rx="18" ry="12"/><text class="gt" y="3">60</text></g>
<g id="G8_61" transform="translate(723,583.6)"><ellipse class="g" rx="18" ry="12"/><text class="gt" y="3">61</text></g>
<g id="G8_62" transform="translate(723,609.7)"><ellipse class="g" rx="18" ry="12"/><text class="gt" y="3">62</text></g>
<g id="G8_63" transform="translate(723,635.8)"><ellipse class="g" rx="18" ry="12"/><text class="gt" y="3">63</text></g>
<g id="G8_64" transform="translate(723,661.9)"><ellipse class="g" rx="18" ry="12"/><text class="gt" y="3">64</text></g>
<g id="G8_65" transform="translate(723,688)"><ellipse class="g" rx="18" ry="12"/><text class="gt" y="3">65</text></g>
<g id="G8_66" transform="translate(723,714.1)"><ellipse class="g" rx="18" ry="12"/><text class="gt" y="3">66</text></g>
<g id="G8_67" transform="translate(723,740.2)"><ellipse class="g" rx="18" ry="12"/><text class="gt" y="3">67</text></g>
<g id="G8_68" transform="translate(723,766.3)"><ellipse class="g" rx="18" ry="12"/><text class="gt" y="3">68</text></g>
<g id="G8_69" transform="translate(723,792.4)"><ellipse class="g" rx="18" ry="12"/><text class="gt" y="3">69</text></g>
<g id="G8_70" transform="translate(761,557.5)"><ellipse class="g" rx="18" ry="12"/><text class="gt" y="3">70</text></g>
<g id="G8_71" transform="translate(761,583.6)"><ellipse class="g" rx="18" ry="12"/><text class="gt" y="3">71</text></g>
<g id="G8_72" transform="translate(761,609.7)"><ellipse class="g" rx="18" ry="12"/><text class="gt" y="3">72</text></g>
<g id="G8_73" transform="translate(761,635.8)"><ellipse class="g" rx="18" ry="12"/><text class="gt" y="3">73</text></g>
<g id="G8_74" transform="translate(761,661.9)"><ellipse class="g" rx="18" ry="12"/><text class="gt" y="3">74</text></g>
<g id="G8_75" transform="translate(761,688)"><ellipse class="g" rx="18" ry="12"/><text class="gt" y="3">75</text></g>
<g id="G8_76" transform="translate(761,714.1)"><ellipse class="g" rx="18" ry="12"/><text class="gt" y="3">76</text></g>
<g id="G8_77" transform="translate(761,740.2)"><ellipse class="g" rx="18" ry="12"/><text class="gt" y="3">77</text></g>
<g id="G8_78" transform="translate(761,766.3)"><ellipse class="g" rx="18" ry="12"/><text class="gt" y="3">78</text></g>
<g id="G8_79" transform="translate(761,792.4)"><ellipse class="g" rx="18" ry="12"/><text class="gt" y="3">79</text></g>
<g id="G8_80" transform="translate(799,557.5)"><ellipse class="g" rx="18" ry="12"/><text class="gt" y="3">80</text></g>
<g id="G8_81" transform="translate(799,583.6)"><ellipse class="g" rx="18" ry="12"/><text class="gt" y="3">81</text></g>
<g id="G8_82" transform="translate(799,609.7)"><ellipse class="g" rx="18" ry="12"/><text class="gt" y="3">82</text></g>
<g id="G8_83" transform="translate(799,635.8)"><ellipse class="g" rx="18" ry="12"/><text class="gt" y="3">83</text></g>
<g id="G8_84" transform="translate(799,661.9)"><ellipse class="g" rx="18" ry="12"/><text class="gt" y="3">84</text></g>
<g id="G8_85" transform="translate(799,688)"><ellipse class="g" rx="18" ry="12"/><text class="gt" y="3">85</text></g>
<g id="G8_86" transform="translate(799,714.1)"><ellipse class="g" rx="18" ry="12"/><text class="gt" y="3">86</text></g>
<g id="G8_87" transform="translate(799,740.2)"><ellipse class="g" rx="18" ry="12"/><text class="gt" y="3">87</text></g>
<g id="G8_88" transform="translate(799,766.3)"><ellipse class="g" rx="18" ry="12"/><text class="gt" y="3">88</text></g>
<g id="G8_89" transform="translate(799,792.4)"><ellipse class="g" rx="18" ry="12"/><text class="gt" y="3">89</text></g>
<g id="G8_90" transform="translate(837,557.5)"><ellipse class="g" rx="18" ry="12"/><text class="gt" y="3">90</text></g>
<g id="G8_91" transform="translate(837,583.6)"><ellipse class="g" rx="18" ry="12"/><text class="gt" y="3">91</text></g>
<g id="G8_92" transform="translate(837,609.7)"><ellipse class="g" rx="18" ry="12"/><text class="gt" y="3">92</text></g>
<g id="G8_93" transform="translate(837,635.8)"><ellipse class="g" rx="18" ry="12"/><text class="gt" y="3">93</text></g>
<g id="G8_94" transform="translate(837,661.9)"><ellipse class="g" rx="18" ry="12"/><text class="gt" y="3">94</text></g>
<g id="G8_95" transform="translate(837,688)"><ellipse class="g" rx="18" ry="12"/><text class="gt" y="3">95</text></g>
<g id="G8_96" transform="translate(837,714.1)"><ellipse class="g" rx="18" ry="12"/><text class="gt" y="3">96</text></g>
<g id="G8_97" transform="translate(837,740.2)"><ellipse class="g" rx="18" ry="12"/><text class="gt" y="3">97</text></g>
<g id="G8_98" transform="translate(837,766.3)"><ellipse class="g" rx="18" ry="12"/><text class="gt" y="3">98</text></g>
<g id="G8_99" transform="translate(837,792.4)"><ellipse class="g" rx="18" ry="12"/><text class="gt" y="3">99</text></g>
</g>
<g id="captions">
<text class="cap" x="8" y="463" textLength="385" lengthAdjust="spacingAndGlyphs">(a) Line topology with 100 nodes</text>
<text class="cap" x="463" y="531" textLength="402" lengthAdjust="spacingAndGlyphs">(b) Circle topology with 100 nodes</text>
<text class="cap" x="2" y="844" textLength="398" lengthAdjust="spacingAndGlyphs">(c) Grid4 topology with 100 nodes</text>
<text class="cap" x="463" y="844" textLength="399" lengthAdjust="spacingAndGlyphs">(d) Grid8 topology with 100 nodes</text>
</g>
</svg>
